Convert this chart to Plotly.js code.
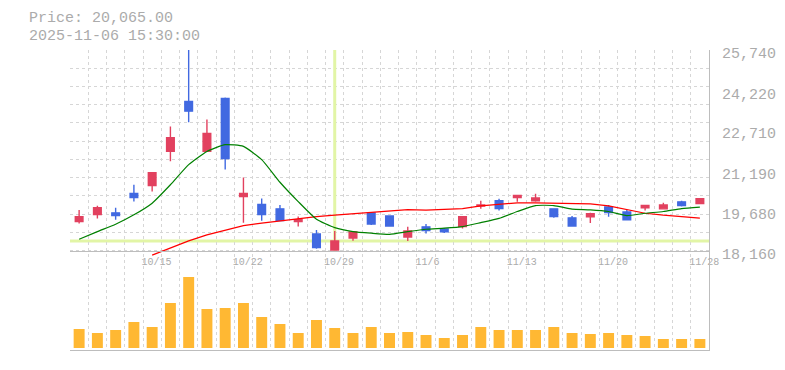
<!DOCTYPE html>
<html>
<head>
<meta charset="utf-8">
<script src="https://cdn.plot.ly/plotly-3.0.1.min.js"></script>
<style>html,body{margin:0;padding:0;background:#fff;}#chart{width:785px;height:370px;}</style>
</head>
<body>
<div id="chart"></div>
<script>
// ---- data ----
const dates = ['2025-10-08','2025-10-09','2025-10-10','2025-10-14','2025-10-15','2025-10-16','2025-10-17','2025-10-20','2025-10-21','2025-10-22','2025-10-23','2025-10-24','2025-10-27','2025-10-28','2025-10-29','2025-10-30','2025-10-31','2025-11-04','2025-11-05','2025-11-06','2025-11-07','2025-11-10','2025-11-11','2025-11-12','2025-11-13','2025-11-14','2025-11-17','2025-11-18','2025-11-19','2025-11-20','2025-11-21','2025-11-25','2025-11-26','2025-11-27','2025-11-28'];
const open  = [19260,19525,19590,20320,20625,21910,23795,21910,23910,20205,19905,19740,19260,18795,18185,18640,19590,19475,18680,19060,18980,19070,19845,20045,20170,20045,19740,19400,19440,19815,19625,19780,19740,20005,19940];
const high  = [19700,19855,19780,20650,21105,22850,25740,23115,23945,20925,20130,19890,19450,18945,18905,18870,19625,19475,19060,19170,19020,19440,20045,20120,20245,20310,19740,19475,19590,19890,19700,19890,19970,20045,20120];
const low   = [19185,19375,19325,20015,20395,21535,23010,21910,21230,19220,19295,19295,19070,18235,18185,18540,19135,19060,18530,18805,18830,18995,19740,19675,20005,20005,19400,19060,19210,19440,19325,19675,19740,19830,19940];
const close = [19440,19780,19485,20170,21105,22430,23430,22585,21645,20320,19525,19295,19335,18275,18530,18870,19170,19095,18905,18920,18870,19440,19890,19750,20245,20155,19450,19095,19560,19600,19325,19865,19890,19865,20120];
const ma5   = [18590,18880,19160,19515,19955,20650,21410,21910,22165,22100,21600,20745,20015,19350,19030,18880,18820,18780,18880,18970,19010,19070,19220,19380,19640,19865,19865,19730,19705,19640,19485,19575,19640,19750,19805];
const ma25  = [null,null,null,null,17995,18250,18530,18755,18945,19110,19200,19285,19350,19450,19500,19550,19625,19665,19715,19690,19715,19750,19855,19920,19970,19970,19955,19955,19930,19855,19705,19575,19500,19435,19390];
const volume = [190,150,180,260,210,450,710,390,400,450,310,240,150,280,200,150,210,150,160,130,100,130,210,180,180,180,210,150,140,150,130,120,90,90,90];
const xTickDates  = ['2025-10-15','2025-10-22','2025-10-29','2025-11-06','2025-11-13','2025-11-20','2025-11-28'];
const xTickLabels = ['10/15','10/22','10/29','11/6','11/13','11/20','11/28'];
const yTickLabels = ['18,160','19,680','21,190','22,710','24,220','25,740'];
const crossDate = '2025-10-29';
const headerPrice = 'Price: 20,065.00';
const headerTime  = '2025-11-06 15:30:00';

// ---- derived ----
const idx = dates.map((d, i) => i);
const yTickVals = yTickLabels.map(s => Number(s.replace(/,/g, '')));
const pMin = yTickVals[0], pMax = yTickVals[yTickVals.length - 1];
const priceBottom = 0.30, axisPos = 0.331;
const lo = pMin - (axisPos - priceBottom) / (1 - axisPos) * (pMax - pMin);
const nGridY = 11;
const gridY = [];
for (let k = 0; k <= nGridY; k++) gridY.push(pMin + k * (pMax - pMin) / nGridY);
const gridX = [];
for (let k = 0; k <= dates.length; k++) gridX.push(k - 0.5);
const xTickVals = xTickDates.map(d => dates.indexOf(d) - 0.5);
const crossIdx = dates.indexOf(crossDate);

const MONO = 'Liberation Mono, DejaVu Sans Mono, monospace';
const TXT = '#ababab';
const GRID = '#d6d6d6';
const AXL = '#bdbdbd';
const DASH = '3px,3px';

const traces = [
  { type: 'scatter', x: idx, y: ma25, mode: 'lines', line: { color: '#ff0000', width: 1.2 }, xaxis: 'x', yaxis: 'y', hoverinfo: 'skip', connectgaps: false },
  { type: 'scatter', x: idx, y: ma5, mode: 'lines', line: { color: '#008000', width: 1.2, shape: 'spline', smoothing: 0.5 }, xaxis: 'x', yaxis: 'y', hoverinfo: 'skip' },
  { type: 'candlestick', x: idx, open: open, high: high, low: low, close: close, xaxis: 'x', yaxis: 'y',
    increasing: { line: { color: '#e2415f', width: 1.4 }, fillcolor: '#e2415f' },
    decreasing: { line: { color: '#4169e1', width: 1.4 }, fillcolor: '#4169e1' },
    whiskerwidth: 0, hoverinfo: 'skip' },
  { type: 'bar', x: idx, y: volume, xaxis: 'x2', yaxis: 'y2', width: 0.6, marker: { color: '#ffb833', line: { width: 0 } }, hoverinfo: 'skip' }
];

const layout = {
  width: 785, height: 370,
  margin: { l: 70, r: 76, t: 50, b: 20, pad: 0 },
  paper_bgcolor: '#ffffff', plot_bgcolor: '#ffffff',
  showlegend: false,
  boxgap: 0.4,
  font: { family: MONO, color: TXT },
  xaxis: {
    domain: [0, 1], anchor: 'free', position: axisPos,
    range: [-0.5, dates.length - 0.5], rangeslider: { visible: false },
    showline: true, linecolor: AXL, linewidth: 1, zeroline: false,
    tickmode: 'array', tickvals: xTickVals, ticktext: xTickLabels,
    ticks: '', ticklabelposition: 'outside right', ticklabelstandoff: 1, ticklabelshift: -2,
    tickfont: { family: MONO, size: 10, color: TXT },
    showgrid: true, gridcolor: GRID, gridwidth: 1, griddash: DASH,
    minor: { tickmode: 'array', tickvals: gridX, showgrid: true, gridcolor: GRID, gridwidth: 1, griddash: DASH, ticks: '' },
    fixedrange: true
  },
  yaxis: {
    domain: [priceBottom, 1], anchor: 'x', side: 'right',
    range: [lo, pMax], showline: true, linecolor: AXL, linewidth: 1, zeroline: false,
    tickmode: 'array', tickvals: yTickVals, ticktext: yTickLabels,
    ticks: '', ticklabelstandoff: 9, ticklabelshift: 3,
    tickfont: { family: MONO, size: 15, color: TXT },
    showgrid: false,
    minor: { tickmode: 'array', tickvals: gridY, showgrid: true, gridcolor: GRID, gridwidth: 1, griddash: DASH, ticks: '' },
    fixedrange: true
  },
  xaxis2: {
    domain: [0, 1], anchor: 'y2', matches: 'x',
    showline: true, linecolor: AXL, linewidth: 1, zeroline: false,
    tickmode: 'array', tickvals: gridX, showticklabels: false, ticks: '',
    showgrid: true, gridcolor: GRID, gridwidth: 1, griddash: DASH,
    fixedrange: true
  },
  yaxis2: {
    domain: [0, priceBottom], anchor: 'x2', side: 'right',
    range: [-20, 880], showline: true, linecolor: AXL, linewidth: 1, zeroline: false,
    showticklabels: false, ticks: '', showgrid: false, fixedrange: true
  },
  shapes: [
    { type: 'line', layer: 'between', xref: 'x', yref: 'y', x0: crossIdx, x1: crossIdx, y0: pMin, y1: pMax, line: { color: '#e2f5a6', width: 3 } },
    { type: 'line', layer: 'between', xref: 'paper', yref: 'y', x0: 0, x1: 1, y0: close[crossIdx], y1: close[crossIdx], line: { color: '#e2f5a6', width: 3 } }
  ],
  annotations: [
    { text: headerPrice, xref: 'paper', yref: 'paper', x: -0.066, y: 1.105, xanchor: 'left', yanchor: 'middle', showarrow: false, borderpad: 0, font: { family: MONO, size: 15, color: TXT } },
    { text: headerTime, xref: 'paper', yref: 'paper', x: -0.066, y: 1.045, xanchor: 'left', yanchor: 'middle', showarrow: false, borderpad: 0, font: { family: MONO, size: 15, color: TXT } }
  ]
};

Plotly.newPlot('chart', traces, layout, { staticPlot: true, displayModeBar: false });
</script>
</body>
</html>
